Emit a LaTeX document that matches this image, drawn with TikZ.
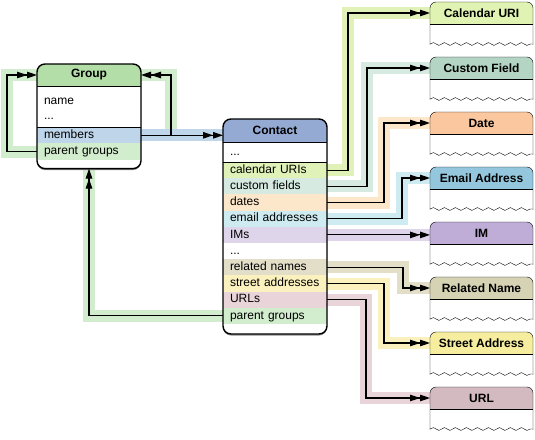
\documentclass[tikz,border=0pt]{standalone}
\usepackage{fontspec}
\setmainfont{Liberation Sans}
\usepackage{xcolor}
\usepackage{tikz}
\usetikzlibrary{positioning,arrows.meta,decorations.pathmorphing}

\definecolor{grpHead}{RGB}{179,222,167}
\definecolor{conHead}{RGB}{149,170,211}
\definecolor{memCol}{RGB}{190,213,234}
\definecolor{pgCol}{RGB}{210,236,206}
\definecolor{calHead}{RGB}{225,243,178}
\definecolor{calCol}{RGB}{224,242,184}
\definecolor{custHead}{RGB}{180,213,196}
\definecolor{custCol}{RGB}{214,234,226}
\definecolor{dateHead}{RGB}{250,199,158}
\definecolor{dateCol}{RGB}{253,231,203}
\definecolor{mailHead}{RGB}{148,199,221}
\definecolor{mailCol}{RGB}{205,235,240}
\definecolor{imHead}{RGB}{191,173,216}
\definecolor{imCol}{RGB}{222,213,234}
\definecolor{relHead}{RGB}{214,210,180}
\definecolor{relCol}{RGB}{226,222,200}
\definecolor{strHead}{RGB}{246,238,158}
\definecolor{strCol}{RGB}{251,241,190}
\definecolor{urlHead}{RGB}{210,186,192}
\definecolor{urlCol}{RGB}{233,212,218}

\pgfdeclarelayer{bands}
\pgfdeclarelayer{bg}
\pgfsetlayers{bands,bg,main}

\tikzset{
  head/.style={minimum width=104pt, minimum height=22pt, inner sep=0pt, outer sep=0pt,
    font=\fontsize{12}{14}\selectfont\bfseries},
  row/.style={text width=90pt, inner xsep=7pt, inner ysep=0pt, outer sep=0pt,
    minimum height=16.2pt, text height=9pt, text depth=2.5pt, align=left,
    font=\fontsize{12}{14}\selectfont},
  pad/.style={minimum width=104pt, minimum height=#1, inner sep=0pt, outer sep=0pt},
  link/.style={line width=1.1pt, -{Triangle[length=10pt,width=6.5pt,sep=0pt]Triangle[length=10pt,width=6.5pt]}},
  band/.style={line width=12pt, draw=#1},
  frame/.style={line width=1.4pt, rounded corners=8pt},
}

\newcommand\stub[2]{%
  \begin{pgfonlayer}{bg}
    \begin{scope}
      \clip ([shift={(-2pt,2pt)}]#1.north west) rectangle ([yshift=-20pt]#1.south east);
      \fill[white, rounded corners=6pt] (#1.north west) rectangle ([yshift=-30pt]#1.south east);
    \end{scope}
    \begin{scope}
      \clip (#1.north west) rectangle (#1.south east);
      \fill[#2, rounded corners=6pt] (#1.north west) rectangle ([yshift=-10pt]#1.south east);
    \end{scope}
  \end{pgfonlayer}
  \begin{scope}
    \clip ([shift={(-2pt,2pt)}]#1.north west) rectangle ([shift={(2pt,-20pt)}]#1.south east);
    \draw[rounded corners=6pt] (#1.north west) rectangle ([yshift=-30pt]#1.south east);
  \end{scope}
  \draw (#1.south west) -- (#1.south east);
  \draw[decorate, decoration={snake, amplitude=1.4pt, segment length=11pt}]
    ([yshift=-20pt]#1.south west) -- ([yshift=-20pt]#1.south east);
}

\begin{document}
\begin{tikzpicture}[x=1pt, y=-1pt]
  \useasboundingbox (0,0) rectangle (535,439);

  \node[head] (grp) at (89,75) {Group};
  \node[row, below=7pt of grp] (gName) {name};
  \node[row, minimum height=14pt, below=0pt of gName] (gDots) {...};
  \node[row, fill=memCol, below=4pt of gDots] (gMem) {members};
  \node[row, fill=pgCol, below=0pt of gMem] (gPar) {parent groups};
  \node[pad=9pt, below=0pt of gPar] (gEnd) {};

  \node[head, minimum height=23pt] (con) at (275,130.5) {Contact};
  \node[row, minimum height=20pt, below=0pt of con] (cDots) {...};
  \node[row, fill=calCol, below=0pt of cDots] (cCal) {calendar URIs};
  \node[row, fill=custCol, below=0pt of cCal] (cCust) {custom fields};
  \node[row, fill=dateCol, below=0pt of cCust] (cDate) {dates};
  \node[row, fill=mailCol, below=0pt of cDate] (cMail) {email addresses};
  \node[row, fill=imCol, below=0pt of cMail] (cIm) {IMs};
  \node[row, below=0pt of cIm] (cDots2) {...};
  \node[row, fill=relCol, below=0pt of cDots2] (cRel) {related names};
  \node[row, fill=strCol, below=0pt of cRel] (cStr) {street addresses};
  \node[row, fill=urlCol, below=0pt of cStr] (cUrl) {URLs};
  \node[row, fill=pgCol, below=0pt of cUrl] (cPar) {parent groups};
  \node[pad=10pt, below=0pt of cPar] (cEnd) {};

  \begin{pgfonlayer}{bg}
    \fill[black!45, rounded corners=8pt] ([yshift=-1.5pt]grp.north west) rectangle ([yshift=-1.5pt]gEnd.south east);
    \fill[white, rounded corners=8pt] (grp.north west) rectangle (gEnd.south east);
    \begin{scope}
      \clip[rounded corners=8pt] (grp.north west) rectangle (gEnd.south east);
      \fill[grpHead] (grp.north west) rectangle (grp.south east);
    \end{scope}
    \fill[black!45, rounded corners=8pt] ([yshift=-1.5pt]con.north west) rectangle ([yshift=-1.5pt]cEnd.south east);
    \fill[white, rounded corners=8pt] (con.north west) rectangle (cEnd.south east);
    \begin{scope}
      \clip[rounded corners=8pt] (con.north west) rectangle (cEnd.south east);
      \fill[conHead] (con.north west) rectangle (con.south east);
    \end{scope}
  \end{pgfonlayer}
  \draw[frame] (grp.north west) rectangle (gEnd.south east);
  \draw (grp.south west) -- (grp.south east);
  \draw (gMem.north west) -- (gMem.north east);
  \draw[frame] (con.north west) rectangle (cEnd.south east);
  \draw (con.south west) -- (con.south east);
  \draw (cCal.north west) -- (cCal.north east);

  \node[head, minimum width=103pt] (cal) at (481.5,13) {Calendar URI};
  \node[head, minimum width=103pt, below=33pt of cal] (cust) {Custom Field};
  \node[head, minimum width=103pt, below=33pt of cust] (date) {Date};
  \node[head, minimum width=103pt, below=33pt of date] (mail) {Email Address};
  \node[head, minimum width=103pt, below=33pt of mail] (im) {IM};
  \node[head, minimum width=103pt, below=33pt of im] (rel) {Related Name};
  \node[head, minimum width=103pt, below=33pt of rel] (street) {Street Address};
  \node[head, minimum width=103pt, below=33pt of street] (url) {URL};
  \stub{cal}{calHead}
  \stub{cust}{custHead}
  \stub{date}{dateHead}
  \stub{mail}{mailHead}
  \stub{im}{imHead}
  \stub{rel}{relHead}
  \stub{street}{strHead}
  \stub{url}{urlHead}

  \coordinate (br) at ([xshift=30pt]gMem.east);
  \begin{pgfonlayer}{bands}
    \draw[band=pgCol] (br) |- (grp.center);
    \draw[band=memCol] (gMem.center) -- (gMem.east -| con.center);
    \draw[band=pgCol] (gPar.center) -- ([xshift=-30pt]gPar.west) |- (grp.center);
    \draw[band=pgCol] (cPar.center) -| (gEnd.south);
    \draw[band=imCol] (cIm.center) -- (cIm.east -| im.center);
  \end{pgfonlayer}
  \draw[link] (gMem.east) -- (gMem.east -| con.west);
  \draw[link] (br) |- (grp.east);
  \draw[link] (gPar.west) -- ([xshift=-30pt]gPar.west) |- (grp.west);
  \draw[link] (cPar.west) -| (gEnd.south);
  \draw[link] (cIm.east) -- (cIm.east -| im.west);

  \foreach \rw/\en/\dx/\cl in {cCal/cal/21/calCol, cCust/cust/40/custCol, cDate/date/57/dateCol,
      cMail/mail/75/mailCol, cRel/rel/76/relCol, cStr/street/57/strCol, cUrl/url/39/urlCol}{
    \begin{pgfonlayer}{bands}
      \draw[band=\cl] (\rw.center) -- ([xshift=\dx pt]\rw.east) |- (\en.west);
    \end{pgfonlayer}
    \draw[link] (\rw.east) -- ([xshift=\dx pt]\rw.east) |- (\en.west);
  }
\end{tikzpicture}
\end{document}
